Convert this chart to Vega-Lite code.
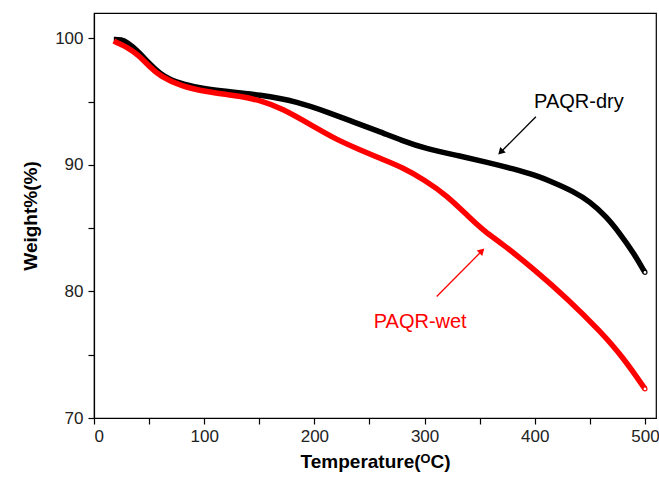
{
  "$schema": "https://vega.github.io/schema/vega-lite/v6.json",
  "width": 562,
  "height": 405,
  "autosize": {"type": "none"},
  "padding": {"left": 94, "top": 13, "right": 3, "bottom": 65},
  "background": "white",
  "config": {
    "view": {"stroke": "black", "strokeWidth": 1.2},
    "font": "Liberation Sans",
    "axis": {
      "domainColor": "black", "tickColor": "black", "labelColor": "#222",
      "labelFont": "Liberation Sans", "labelFontSize": 17, "titleFont": "Liberation Sans",
      "titleFontSize": 19, "titleFontWeight": "bold", "titleColor": "black",
      "grid": false, "tickSize": 6, "domainWidth": 1.2, "tickWidth": 1.2
    }
  },
  "datasets": {
    "curves": [
      {"T": 18, "W": 99.9, "s": "PAQR-dry"}, {"T": 25, "W": 99.9, "s": "PAQR-dry"},
      {"T": 30, "W": 99.7, "s": "PAQR-dry"}, {"T": 40, "W": 99.0, "s": "PAQR-dry"},
      {"T": 50, "W": 98.0, "s": "PAQR-dry"}, {"T": 60, "W": 97.2, "s": "PAQR-dry"},
      {"T": 70, "W": 96.7, "s": "PAQR-dry"}, {"T": 80, "W": 96.4, "s": "PAQR-dry"},
      {"T": 100, "W": 96.0, "s": "PAQR-dry"}, {"T": 120, "W": 95.8, "s": "PAQR-dry"},
      {"T": 150, "W": 95.55, "s": "PAQR-dry"}, {"T": 185, "W": 95.0, "s": "PAQR-dry"},
      {"T": 214, "W": 94.1, "s": "PAQR-dry"}, {"T": 235, "W": 93.4, "s": "PAQR-dry"},
      {"T": 257, "W": 92.7, "s": "PAQR-dry"}, {"T": 280, "W": 91.9, "s": "PAQR-dry"},
      {"T": 300, "W": 91.3, "s": "PAQR-dry"}, {"T": 332, "W": 90.7, "s": "PAQR-dry"},
      {"T": 357, "W": 90.2, "s": "PAQR-dry"}, {"T": 380, "W": 89.7, "s": "PAQR-dry"},
      {"T": 400, "W": 89.2, "s": "PAQR-dry"}, {"T": 417, "W": 88.6, "s": "PAQR-dry"},
      {"T": 435, "W": 87.9, "s": "PAQR-dry"}, {"T": 450, "W": 87.1, "s": "PAQR-dry"},
      {"T": 465, "W": 85.9, "s": "PAQR-dry"}, {"T": 477, "W": 84.6, "s": "PAQR-dry"},
      {"T": 490, "W": 83.0, "s": "PAQR-dry"}, {"T": 500, "W": 81.5, "s": "PAQR-dry"},
      {"T": 18, "W": 99.8, "s": "PAQR-wet"}, {"T": 22, "W": 99.6, "s": "PAQR-wet"},
      {"T": 30, "W": 99.3, "s": "PAQR-wet"}, {"T": 40, "W": 98.7, "s": "PAQR-wet"},
      {"T": 50, "W": 97.8, "s": "PAQR-wet"}, {"T": 60, "W": 97.0, "s": "PAQR-wet"},
      {"T": 80, "W": 96.2, "s": "PAQR-wet"}, {"T": 100, "W": 95.8, "s": "PAQR-wet"},
      {"T": 135, "W": 95.4, "s": "PAQR-wet"}, {"T": 150, "W": 95.1, "s": "PAQR-wet"},
      {"T": 170, "W": 94.5, "s": "PAQR-wet"}, {"T": 200, "W": 93.0, "s": "PAQR-wet"},
      {"T": 220, "W": 92.0, "s": "PAQR-wet"}, {"T": 241, "W": 91.2, "s": "PAQR-wet"},
      {"T": 260, "W": 90.5, "s": "PAQR-wet"}, {"T": 280, "W": 89.8, "s": "PAQR-wet"},
      {"T": 300, "W": 88.8, "s": "PAQR-wet"}, {"T": 320, "W": 87.6, "s": "PAQR-wet"},
      {"T": 340, "W": 85.9, "s": "PAQR-wet"}, {"T": 355, "W": 84.7, "s": "PAQR-wet"},
      {"T": 370, "W": 83.8, "s": "PAQR-wet"}, {"T": 400, "W": 81.7, "s": "PAQR-wet"},
      {"T": 430, "W": 79.4, "s": "PAQR-wet"}, {"T": 460, "W": 76.8, "s": "PAQR-wet"},
      {"T": 480, "W": 74.8, "s": "PAQR-wet"}, {"T": 500, "W": 72.3, "s": "PAQR-wet"}
    ],
    "ends": [
      {"T": 500, "W": 81.5, "s": "PAQR-dry"},
      {"T": 500, "W": 72.3, "s": "PAQR-wet"}
    ],
    "labels": [
      {"T": 440, "W": 95.0, "s": "PAQR-dry"},
      {"T": 296, "W": 77.6, "s": "PAQR-wet"}
    ],
    "arrows": [
      {"T": 401, "W": 93.8, "T2": 369, "W2": 91.0, "s": "PAQR-dry"},
      {"T": 311, "W": 79.6, "T2": 352, "W2": 83.2, "s": "PAQR-wet"}
    ]
  },
  "layer": [
    {
      "data": {"name": "curves"},
      "mark": {"type": "line", "strokeWidth": 5.5, "interpolate": "basis", "clip": true},
      "encoding": {
        "x": {"field": "T", "type": "quantitative", "scale": {"domain": [0, 510], "nice": false},
          "axis": {"title": "Temperature(ᴼC)", "values": [0, 50, 100, 150, 200, 250, 300, 350, 400, 450, 500],
            "labelExpr": "datum.value % 100 == 0 ? datum.label : ''", "titlePadding": 8, "labelPadding": 4}},
        "y": {"field": "W", "type": "quantitative", "scale": {"domain": [70, 102], "nice": false, "zero": false},
          "axis": {"title": "Weight%(%)", "values": [70, 75, 80, 85, 90, 95, 100],
            "labelExpr": "datum.value % 10 == 0 ? datum.label : ''", "titlePadding": 14, "labelPadding": 5}},
        "color": {"field": "s", "type": "nominal", "scale": {"domain": ["PAQR-dry", "PAQR-wet"], "range": ["black", "#ff0000"]}, "legend": null},
        "order": {"field": "T"}
      }
    },
    {
      "data": {"name": "ends"},
      "mark": {"type": "point", "shape": "circle", "filled": true, "fill": "white", "size": 16, "strokeWidth": 1.2, "opacity": 1},
      "encoding": {
        "x": {"field": "T", "type": "quantitative"},
        "y": {"field": "W", "type": "quantitative"},
        "stroke": {"field": "s", "type": "nominal", "scale": {"domain": ["PAQR-dry", "PAQR-wet"], "range": ["black", "#ff0000"]}, "legend": null}
      }
    },
    {
      "data": {"name": "arrows"},
      "mark": {"type": "rule", "strokeWidth": 1.3},
      "encoding": {
        "x": {"field": "T", "type": "quantitative"},
        "y": {"field": "W", "type": "quantitative"},
        "x2": {"field": "T2"},
        "y2": {"field": "W2"},
        "color": {"field": "s", "type": "nominal", "legend": null}
      }
    },
    {
      "data": {"name": "arrows"},
      "transform": [{"filter": "datum.s == 'PAQR-dry'"}],
      "mark": {"type": "point", "shape": "triangle-up", "filled": true, "size": 60, "angle": 225, "opacity": 1},
      "encoding": {
        "x": {"field": "T2", "type": "quantitative"},
        "y": {"field": "W2", "type": "quantitative"},
        "color": {"field": "s", "type": "nominal", "legend": null}
      }
    },
    {
      "data": {"name": "arrows"},
      "transform": [{"filter": "datum.s == 'PAQR-wet'"}],
      "mark": {"type": "point", "shape": "triangle-up", "filled": true, "size": 60, "angle": 45, "opacity": 1},
      "encoding": {
        "x": {"field": "T2", "type": "quantitative"},
        "y": {"field": "W2", "type": "quantitative"},
        "color": {"field": "s", "type": "nominal", "legend": null}
      }
    },
    {
      "data": {"name": "labels"},
      "mark": {"type": "text", "fontSize": 20, "font": "Liberation Sans", "align": "center", "baseline": "middle"},
      "encoding": {
        "x": {"field": "T", "type": "quantitative"},
        "y": {"field": "W", "type": "quantitative"},
        "text": {"field": "s"},
        "color": {"field": "s", "type": "nominal", "legend": null}
      }
    }
  ]
}
